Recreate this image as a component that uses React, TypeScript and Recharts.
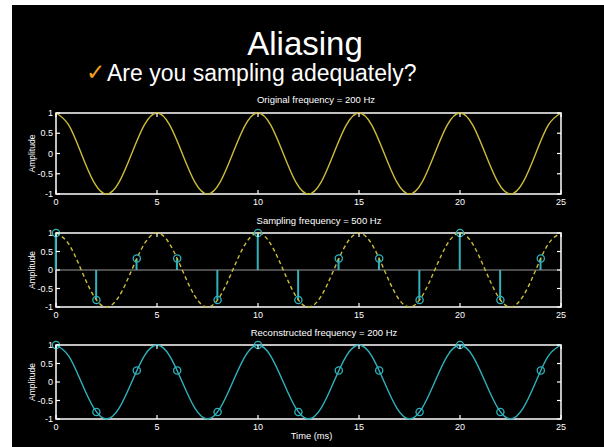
import React from "react";
import {
  ComposedChart,
  Line,
  Bar,
  XAxis,
  YAxis,
  ReferenceArea,
  ReferenceLine,
  Label,
} from "recharts";

// 200 Hz tone, time in ms (eighth-period steps)
const toneTime = [
  0, 0.625, 1.25, 1.875, 2.5, 3.125, 3.75, 4.375, 5, 5.625, 6.25, 6.875, 7.5,
  8.125, 8.75, 9.375, 10, 10.625, 11.25, 11.875, 12.5, 13.125, 13.75, 14.375,
  15, 15.625, 16.25, 16.875, 17.5, 18.125, 18.75, 19.375, 20, 20.625, 21.25,
  21.875, 22.5, 23.125, 23.75, 24.375, 25,
];
const toneAmp = [
  1, 0.707, 0, -0.707, -1, -0.707, 0, 0.707, 1, 0.707, 0, -0.707, -1, -0.707,
  0, 0.707, 1, 0.707, 0, -0.707, -1, -0.707, 0, 0.707, 1, 0.707, 0, -0.707, -1,
  -0.707, 0, 0.707, 1, 0.707, 0, -0.707, -1, -0.707, 0, 0.707, 1,
];

// samples taken at 500 Hz (every 2 ms)
const sampleTime = [0, 2, 4, 6, 8, 10, 12, 14, 16, 18, 20, 22, 24];
const sampleAmp = [
  1, -0.81, 0.31, 0.31, -0.81, 1, -0.81, 0.31, 0.31, -0.81, 1, -0.81, 0.31,
];

const xTicks = [0, 5, 10, 15, 20, 25];
const yTicks = [-1, -0.5, 0, 0.5, 1];

const tone = toneTime.map((t, i) => ({ t, a: toneAmp[i] }));
const samples = sampleTime.map((t, i) => ({ t, a: sampleAmp[i] }));

const YELLOW = "#cbbd3a";
const CYAN = "#2fb2bc";
const FONT = "'Liberation Sans', Arial, Helvetica, sans-serif";

const CHART_W = 604;
const PLOT_W = 505;
const MARGIN_TOP = 8;

// inward ticks on bottom and top edges, MATLAB style
function XTick({ x, y, payload, plotH }: any) {
  return (
    <g>
      <line x1={x} y1={y} x2={x} y2={y - 4} stroke="#fff" strokeWidth={1.2} />
      <line x1={x} y1={y - plotH} x2={x} y2={y - plotH + 4} stroke="#fff" strokeWidth={1.2} />
      <text x={x} y={y + 11} textAnchor="middle" fill="#fff" fontSize={9} fontFamily={FONT}>
        {payload.value}
      </text>
    </g>
  );
}

// inward ticks on left and right edges
function YTick({ x, y, payload }: any) {
  return (
    <g>
      <line x1={x} y1={y} x2={x + 4} y2={y} stroke="#fff" strokeWidth={1.2} />
      <line x1={x + PLOT_W} y1={y} x2={x + PLOT_W - 4} y2={y} stroke="#fff" strokeWidth={1.2} />
      <text x={x - 3} y={y + 3.2} textAnchor="end" fill="#fff" fontSize={9} fontFamily={FONT}>
        {payload.value}
      </text>
    </g>
  );
}

function Panel({
  top,
  plotH,
  xAxisH = 16,
  data,
  children,
  xLabel,
}: {
  top: number;
  plotH: number;
  xAxisH?: number;
  data?: any[];
  children: React.ReactNode;
  xLabel?: string;
}) {
  return (
    <div style={{ position: "absolute", left: 0, top: top - MARGIN_TOP }}>
      <ComposedChart
        width={CHART_W}
        height={MARGIN_TOP + plotH + xAxisH}
        data={data}
        margin={{ top: MARGIN_TOP, right: 43, bottom: 0, left: 10 }}
      >
        <XAxis
          dataKey="t"
          type="number"
          domain={[0, 25]}
          ticks={xTicks}
          interval={0}
          height={xAxisH}
          axisLine={false}
          tickLine={false}
          tickSize={0}
          tickMargin={0}
          tick={(p: any) => <XTick {...p} plotH={plotH} />}
        >
          {xLabel && (
            <Label
              value={xLabel}
              position="insideBottom"
              offset={2}
              dx={3}
              fill="#fff"
              fontSize={9.3}
              fontFamily={FONT}
            />
          )}
        </XAxis>
        <YAxis
          type="number"
          domain={[-1, 1]}
          ticks={yTicks}
          interval={0}
          width={46}
          axisLine={false}
          tickLine={false}
          tickSize={0}
          tickMargin={0}
          tick={(p: any) => <YTick {...p} />}
        >
          <Label
            value="Amplitude"
            angle={-90}
            position="center"
            dx={-1}
            fill="#fff"
            fontSize={8.5}
            fontFamily={FONT}
          />
        </YAxis>
        <ReferenceArea
          x1={0}
          x2={25}
          y1={-1}
          y2={1}
          fill="none"
          fillOpacity={0}
          stroke="#fff"
          strokeWidth={1.5}
          ifOverflow="visible"
        />
        {children}
      </ComposedChart>
    </div>
  );
}

export default function App() {
  return (
    <div
      style={{
        position: "absolute",
        left: 0,
        top: 0,
        width: 604,
        height: 447,
        background: "#fff",
        overflow: "hidden",
      }}
    >
      <svg width={604} height={447} style={{ position: "absolute", left: 0, top: 0 }}>
        <rect x={12} y={5} width={592} height={442} fill="#000" />
        <text x={305} y={55} textAnchor="middle" fill="#fff" fontSize={33} fontFamily={FONT}>
          Aliasing
        </text>
        <text x={86} y={80} fill="#f0a020" fontSize={23} fontFamily="'DejaVu Sans', sans-serif">
          ✓
        </text>
        <text x={107} y={81} fill="#fff" fontSize={23} fontFamily={FONT}>
          Are you sampling adequately?
        </text>
        <text x={316} y={103} textAnchor="middle" fill="#fff" fontSize={9.5} fontFamily={FONT}>
          Original frequency = 200 Hz
        </text>
        <text x={319} y={223.5} textAnchor="middle" fill="#fff" fontSize={9.5} fontFamily={FONT}>
          Sampling frequency = 500 Hz
        </text>
        <text x={324} y={335.5} textAnchor="middle" fill="#fff" fontSize={9.5} fontFamily={FONT}>
          Reconstructed frequency = 200 Hz
        </text>
      </svg>

      {/* original tone */}
      <Panel top={113} plotH={81} data={tone}>
        <Line
          dataKey="a"
          type="natural"
          stroke={YELLOW}
          strokeWidth={1.4}
          dot={false}
          isAnimationActive={false}
        />
      </Panel>

      {/* sampled tone: stems + markers over the dashed original */}
      <Panel top={233} plotH={74} data={samples}>
        <ReferenceLine y={0} stroke="#9a9a9a" strokeWidth={1} />
        <Line
          data={tone}
          dataKey="a"
          type="natural"
          stroke={YELLOW}
          strokeWidth={1.4}
          strokeDasharray="4 3"
          dot={false}
          isAnimationActive={false}
        />
        <Bar dataKey="a" fill={CYAN} barSize={2} isAnimationActive={false} />
        <Line
          dataKey="a"
          stroke="none"
          dot={{ r: 3.6, stroke: CYAN, strokeWidth: 1.3, fill: "none" }}
          activeDot={false}
          isAnimationActive={false}
        />
      </Panel>

      {/* reconstruction */}
      <Panel top={345} plotH={74} xAxisH={22} data={tone} xLabel="Time (ms)">
        <Line
          dataKey="a"
          type="natural"
          stroke={CYAN}
          strokeWidth={1.4}
          dot={false}
          isAnimationActive={false}
        />
        <Line
          data={samples}
          dataKey="a"
          stroke="none"
          dot={{ r: 3.6, stroke: CYAN, strokeWidth: 1.3, fill: "none" }}
          activeDot={false}
          isAnimationActive={false}
        />
      </Panel>
    </div>
  );
}
